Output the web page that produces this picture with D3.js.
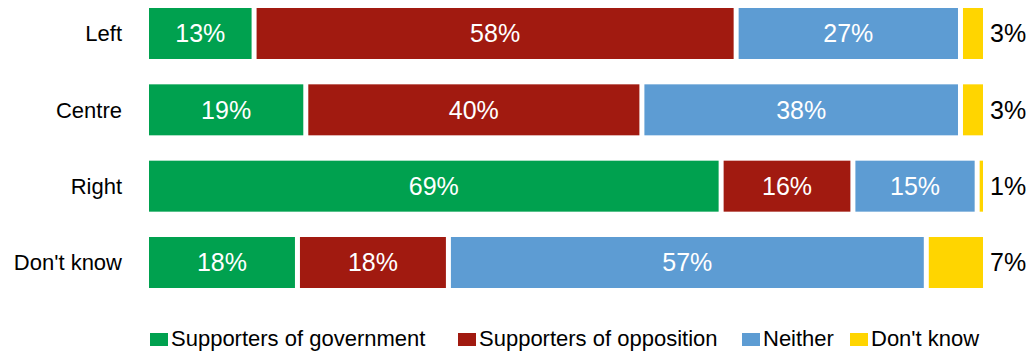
<!DOCTYPE html>
<html>
<head>
<meta charset="utf-8">
<script src="https://cdn.jsdelivr.net/npm/d3@7"></script>
<style>
  body { margin: 0; background: #fff; }
  text { font-family: "Liberation Sans", Arial, sans-serif; }
</style>
</head>
<body>
<svg width="1035" height="353"></svg>
<script>
var categories = ["Left", "Centre", "Right", "Don't know"];
var seriesNames = ["Supporters of government", "Supporters of opposition", "Neither", "Don't know"];
var colors = ["#00A14F", "#A11A10", "#5D9CD3", "#FFD500"];

// percentages per series, one value per category
var government = [12.6, 18.8, 68.6, 17.8];
var opposition = [57.8, 40.3, 15.8, 18.1];
var neither    = [26.9, 38.2, 14.9, 57.3];
var dontKnow   = [2.7, 2.7, 0.7, 6.8];

var series = [government, opposition, neither, dontKnow];

var svg = d3.select("svg");

var x = d3.scaleLinear().domain([0, 100]).range([149, 983]);
var y = d3.scaleBand().domain(categories).range([8, 288]).paddingInner(0.332).paddingOuter(0);

var rows = categories.map(function(c, i) {
    var acc = 0;
    return series.map(function(s, k) {
        var seg = { cat: c, k: k, x0: acc, x1: acc + s[i], v: s[i] };
        acc += s[i];
        return seg;
    });
});

var gap = 2.5;

var g = svg.append("g");

rows.forEach(function(row) {
    row.forEach(function(d) {
        var left = x(d.x0) + (d.k > 0 ? gap : 0);
        var right = x(d.x1) - (d.k < 3 ? gap : 0);
        g.append("rect")
            .attr("x", left)
            .attr("y", y(d.cat))
            .attr("width", Math.max(0, right - left))
            .attr("height", y.bandwidth())
            .attr("fill", colors[d.k]);

        var label = Math.round(d.v) + "%";
        if (d.k < 3) {
            g.append("text")
                .attr("x", (left + right) / 2)
                .attr("y", y(d.cat) + y.bandwidth() / 2)
                .attr("dy", "0.35em")
                .attr("text-anchor", "middle")
                .attr("fill", "#fff")
                .style("font-size", "25px")
                .text(label);
        } else {
            g.append("text")
                .attr("x", 990)
                .attr("y", y(d.cat) + y.bandwidth() / 2)
                .attr("dy", "0.35em")
                .attr("fill", "#000")
                .style("font-size", "25px")
                .text(label);
        }
    });
});

// category labels
svg.append("g").selectAll("text")
    .data(categories)
    .enter().append("text")
    .attr("x", 122)
    .attr("y", function(d) { return y(d) + y.bandwidth() / 2; })
    .attr("dy", "0.35em")
    .attr("text-anchor", "end")
    .style("font-size", "22px")
    .attr("fill", "#000")
    .text(function(d) { return d; });

// legend
var legendX = [150, 458, 742, 850];
var legend = svg.append("g");
seriesNames.forEach(function(name, k) {
    legend.append("rect")
        .attr("x", legendX[k])
        .attr("y", 333)
        .attr("width", 18)
        .attr("height", 13)
        .attr("fill", colors[k]);
    legend.append("text")
        .attr("x", legendX[k] + 21)
        .attr("y", 346)
        .style("font-size", "22px")
        .attr("fill", "#000")
        .text(name);
});
</script>
</body>
</html>
